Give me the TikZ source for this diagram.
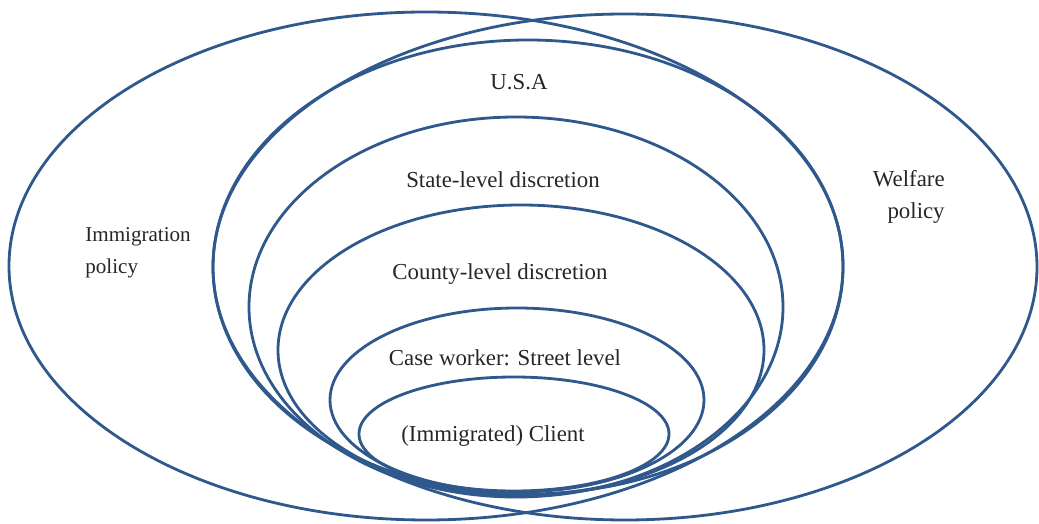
\documentclass[tikz,border=0pt]{standalone}
\usepackage{fontspec}
\setmainfont{Liberation Serif}
\definecolor{ringblue}{RGB}{47,88,140}
\tikzset{
  ring/.style={draw=ringblue, line width=1.6pt},
  lbl/.style={font=\fontsize{13}{18}\selectfont, text=black!85, inner sep=0pt}
}
\begin{document}
\begin{tikzpicture}[x=0.02cm, y=0.02cm]
      \useasboundingbox (0,0) rectangle (1039,524);
      % policy fields
      \draw[ring] (426,258) ellipse [x radius=417, y radius=254];
      \draw[ring] (625,257) ellipse [x radius=412, y radius=253];
      % nested levels
      \draw[ring] (528,257) ellipse [x radius=315, y radius=227];
      \draw[ring] (516,217) ellipse [x radius=267, y radius=190];
      \draw[ring] (521,174) ellipse [x radius=243, y radius=145];
      \draw[ring] (517,124) ellipse [x radius=187, y radius=92];
      \draw[ring] (514,90) ellipse [x radius=155, y radius=57];
      \node[lbl] (usa) at (519,442) {U.S.A};
      \node[lbl] (state) at (503,344) {State-level discretion};
      \node[lbl] (county) at (500,250) {County-level discretion};
      \node[lbl] (case) at (505,166) {Case worker: Street level};
      \node[lbl] (client) at (493,88) {(Immigrated) Client};
      \node[lbl, font=\fontsize{12}{18}\selectfont, align=left, anchor=west] (immig) at (85,271) {Immigration\\policy};
      \node[lbl, align=right, anchor=east] (welfare) at (945,327) {Welfare\\policy};
    \end{tikzpicture}
\end{document}
